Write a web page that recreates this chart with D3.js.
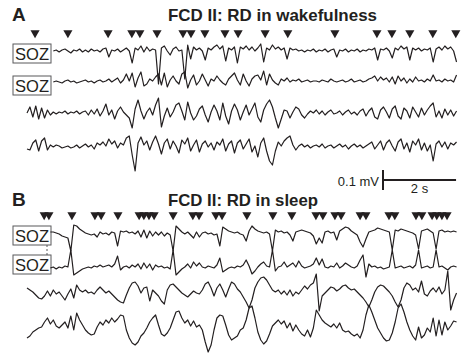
<!DOCTYPE html>
<html>
<head>
<meta charset="utf-8">
<script src="https://cdn.jsdelivr.net/npm/d3@7"></script>
<style>
  body { margin: 0; background: #fff; }
  svg text { font-family: "Liberation Sans", Arial, sans-serif; fill: #231f20; }
</style>
</head>
<body>
<svg id="chart"></svg>
<script>
// sampling of the traces (s) and sweep length (s)
const dt = 0.08;
const sweep = 11.8;

// detected ripple markers (s)
const markersWake = [0.22, 1.12, 2.22, 2.87, 3.09, 3.56, 4.27, 4.49, 4.87, 5.42, 5.78, 6.52, 7.14, 8.43, 9.58, 9.99, 10.48, 11.11, 11.74];
const markersSleep = [0.47, 0.60, 1.23, 1.86, 2.03, 2.49, 3.07, 3.20, 3.34, 3.48, 4.00, 4.54, 4.71, 5.17, 5.34, 6.02, 6.73, 7.25, 7.91, 8.10, 8.43, 8.60, 9.12, 9.28, 9.91, 10.07, 10.65, 10.81, 11.09, 11.22, 11.36, 11.50];

// first sample time of each channel (s)
const startWake = [0.72, 0.72, 0, 0];
const startSleep = [0.64, 0.64, 0, 0];

// channel values (uV), one sample every dt
const wake1 = [0,5,-5,5,10,0,-10,5,0,10, -5,5,-5,10,0,5,-5,10,15,-30, 5,0,10,-5,5,15,0,-60,15,5,
  25,-5,20,0,10,5,-165,15,25,0, -20,10,20,0,5,-140,30,-40,20,5, 15,0,-45,15,5,20,30,10,25,-50,
  15,5,20,-60,20,10,25,5,20,0, 15,35,-55,15,5,30,10,20,5,15, -40,15,5,10,0,5,-5,5,0,10,
  -5,5,0,10,-5,5,10,-30,5,0, 10,-5,5,0,10,-5,5,0,10,5, 15,-45,10,5,15,0,-35,15,5,25,
  10,20,-45,15,5,15,0,10,5,15, -55,10,20,5,25,10,20,0,-55];
const wake2 = [0,5,0,-5,5,10,0,5,-5,0, 5,10,0,5,-5,5,10,0,5,15, 0,10,20,-5,10,40,5,45,-25,20,
  50,-20,-10,15,5,25,40,-15,45,-25, 10,30,5,-10,40,50,-30,10,35,-15, 5,40,10,-20,15,5,30,10,-5,-15,
  15,30,45,10,-15,40,5,-20,15,30, 35,10,55,-15,40,10,-5,-15,15,5, 20,0,10,5,15,0,5,10,0,5,
  5,0,10,5,0,15,5,0,5,10, 0,5,15,0,5,10,0,5,15,20, 30,5,25,10,20,0,25,-10,30,5,
  20,-5,15,0,25,5,10,0,15,5, 35,5,10,0,15,5,10,0,35];
const wake3 = [0,30,-20,35,-30,25,-25,15,-10,5, -5,5,0,10,-5,5,0,10,-5,5, 10,-10,15,-5,20,-15,10,45,-10,15,
  -30,10,30,5,-10,-25,-75,20,65,10, -30,5,25,-10,40,75,-70,-15,25,-20, 5,40,50,10,-35,55,0,-35,-15,20,
  35,-10,-45,5,40,10,-35,50,-15,-55, 10,45,15,-35,5,40,-10,20,50,-20, -45,15,45,65,30,-25,-75,-30,15,10,
  -25,5,30,20,-10,-25,-5,10,0,15, -5,10,-10,5,15,-5,0,10,-10,5, 15,-5,5,-10,10,20,-15,10,25,-20,
  -30,15,30,5,-25,20,35,-15,-30,25, 10,-25,30,5,-20,25,-10,15,35,50, -20,10,-25,20,-10,15,-15,10];
const wake4 = [-10,-15,20,35,-20,30,45,-15,10,0, 10,5,-5,0,5,-5,0,10,-5,5, 15,0,10,-10,20,10,25,5,40,15,
  30,-5,20,10,45,55,-40,-120,20,50, 10,30,-15,25,55,15,-35,20,40,-10, 30,5,-30,35,15,45,-20,10,35,-25,
  15,30,0,20,-15,25,10,40,-20,15, 30,-30,20,35,-10,15,40,-25,5,-50, 20,45,-20,-70,-90,-20,25,5,30,45,
  55,10,-15,5,15,0,10,-5,5,10, 0,15,-5,5,10,-5,5,15,0,10, -10,5,15,0,10,-5,5,15,25,-10,
  10,30,-15,20,35,5,-20,25,40,-10, 20,-25,30,10,40,-15,20,-20,10,-70, 15,30,0,25,-10,20,10,25];

const sleep1 = [5,5,0,-5,-15,-20,-25,-90,40,35, 20,10,0,-5,-10,-5,-20,5,-5,0, -10,5,0,-65,10,5,10,0,5,-5,
  10,-20,15,-25,10,-15,5,-10,5,-15, 0,-10,-90,35,20,5,-5,5,-10,-25, 5,-20,0,5,-5,0,-10,-5,-65,30,
  20,10,5,0,5,-5,-10,-40,10,35, 20,10,5,0,5,-5,-90,15,5,10, 0,5,-10,-40,5,10,15,10,5,0,
  -15,-55,-25,-50,5,10,0,5,-35,10, 20,30,25,10,0,-10,-45,-70,-30,5, 10,15,25,20,15,10,5,-85,15,10,
  20,15,10,5,0,-10,-80,10,15,20, 10,0,-80,10,15,5,10,5,10,5];
const sleep2 = [0,5,-5,5,0,10,5,90,-35,-25, -15,-5,0,5,0,10,5,15,5,10, 15,5,20,60,-10,5,10,0,15,5,
  20,-5,25,0,20,-10,15,5,10,0, 5,-5,90,-35,-20,-5,5,20,0,30, 10,25,5,0,10,5,0,15,50,-20,
  -10,0,5,0,10,5,15,40,10,-30, -15,5,20,30,10,5,90,-15,5,10, 30,5,15,25,5,35,10,0,5,10,
  20,50,15,45,5,0,10,5,25,0, 10,25,15,5,0,10,40,65,-45,20, 5,10,0,5,-5,0,5,90,0,5,
  10,0,5,10,0,15,90,0,5,10, 0,5,90,5,10,0,-10,5,10,5];
const sleep3 = [25,15,5,-10,-25,-30,-15,10,-15,15, -5,5,-15,-35,-5,20,-25,40,15,5, 15,0,5,-5,15,30,15,0,10,-5,
  -20,-35,-45,-50,-10,25,50,55,35,0, 25,30,-40,15,0,-15,-40,-55,15,40, 45,30,15,0,-10,-20,-5,10,0,-5,
  15,45,55,25,-15,25,45,15,-20,20, 55,45,20,5,-20,-45,-75,-35,25,55, 75,80,65,40,15,5,15,-5,10,-10,
  15,-15,5,-5,15,35,20,40,50,95, -90,-15,0,15,30,25,10,20,35,40, 25,15,20,5,-10,-25,-45,-70,-35,5,
  30,40,35,20,5,-15,-45,-70,-35,25, 50,40,15,25,5,60,-5,-15,10,25, 5,30,-5,15,110,-85,-35,0];
const sleep4 = [-40,-30,-10,0,10,15,40,60,30,50, 20,10,25,40,10,70,0,85,50,25, 0,-15,-25,-20,15,40,25,50,35,60,
  40,55,75,70,0,-40,-65,-75,-60,-30, -15,10,40,60,75,25,-20,-30,-15,10, 50,90,95,60,35,50,20,45,15,25,
  0,-60,-110,-75,0,60,75,70,25,-25, -50,-40,-30,0,10,50,110,120,60,-10, -50,-70,-55,-20,20,35,50,30,45,10,
  35,-5,25,0,-20,-30,0,-35,10,100, 75,50,35,25,15,30,10,35,0,-10, -5,-20,-30,-20,-40,0,75,125,90,50,
  10,-15,-40,-55,-50,-15,40,110,130,90, 40,0,-30,-50,15,-40,-25,10,-10,60, -30,50,-25,40,0,20,45,40];

const width = 467, height = 353;
const svg = d3.select('#chart').attr('width', width).attr('height', height);

const x = d3.scaleLinear().domain([0, sweep]).range([27, 458]);
const amp = d3.scaleLinear().domain([0, 100]).range([0, -20]); // 0.1 mV -> 20 px

function drawPanel(letter, title, titleY, titleW, markers, markerY, channels, starts, baselines, boxes) {
  const g = svg.append('g');

  g.append('text').attr('x', 12).attr('y', titleY).attr('font-size', 19).attr('font-weight', 'bold').text(letter);
  g.append('text').attr('x', 168).attr('y', titleY)
    .attr('font-size', 16.5).attr('font-weight', 'bold')
    .attr('textLength', titleW).attr('lengthAdjust', 'spacingAndGlyphs')
    .text(title);

  g.append('g').selectAll('path')
    .data(markers)
    .enter().append('path')
    .attr('d', d3.symbol().type(d3.symbolTriangle).size(36))
    .attr('transform', d => `translate(${x(d)},${markerY}) rotate(180)`)
    .attr('fill', '#231f20');

  boxes.forEach(b => {
    g.append('rect').attr('x', 13).attr('y', b).attr('width', 38).attr('height', 19)
      .attr('fill', 'none').attr('stroke', '#58595b').attr('stroke-width', 1);
    g.append('text').attr('x', 32).attr('y', b + 15.5).attr('text-anchor', 'middle')
      .attr('font-size', 16.5).attr('textLength', 34).attr('lengthAdjust', 'spacingAndGlyphs')
      .text('SOZ');
  });

  channels.forEach((vals, k) => {
    const line = d3.line()
      .x((d, i) => x(starts[k] + i * dt))
      .y(d => baselines[k] + amp(d));
    g.append('path')
      .datum(vals)
      .attr('d', line)
      .attr('fill', 'none')
      .attr('stroke', '#231f20')
      .attr('stroke-width', 1.2)
      .attr('stroke-linejoin', 'round');
  });
  return g;
}

drawPanel('A', 'FCD II: RD in wakefulness', 21, 209, markersWake, 33,
  [wake1, wake2, wake3, wake4], startWake, [51, 82, 113, 147], [44, 76]);

const gB = drawPanel('B', 'FCD II: RD in sleep', 206, 150, markersSleep, 215,
  [sleep1, sleep2, sleep3, sleep4], startSleep, [233, 268, 293, 330], [226, 255]);

gB.append('line').attr('x1', 47).attr('x2', 47).attr('y1', 245).attr('y2', 255)
  .attr('stroke', '#58595b').attr('stroke-width', 1).attr('stroke-dasharray', '2,2');

// scale bar: 0.1 mV, 2 s
const bx = 383, by = 180;
const bar = svg.append('g').attr('stroke', '#231f20').attr('stroke-width', 2);
bar.append('line').attr('x1', bx).attr('x2', bx).attr('y1', by - 10).attr('y2', by - 10 - amp(100));
bar.append('line').attr('x1', bx).attr('x2', bx + x(2) - x(0)).attr('y1', by).attr('y2', by);
svg.append('text').attr('x', bx - 4).attr('y', by + 6).attr('text-anchor', 'end').attr('font-size', 13).text('0.1 mV');
svg.append('text').attr('x', bx + (x(2) - x(0)) / 2).attr('y', by + 13).attr('text-anchor', 'middle').attr('font-size', 13).text('2 s');
</script>
</body>
</html>
